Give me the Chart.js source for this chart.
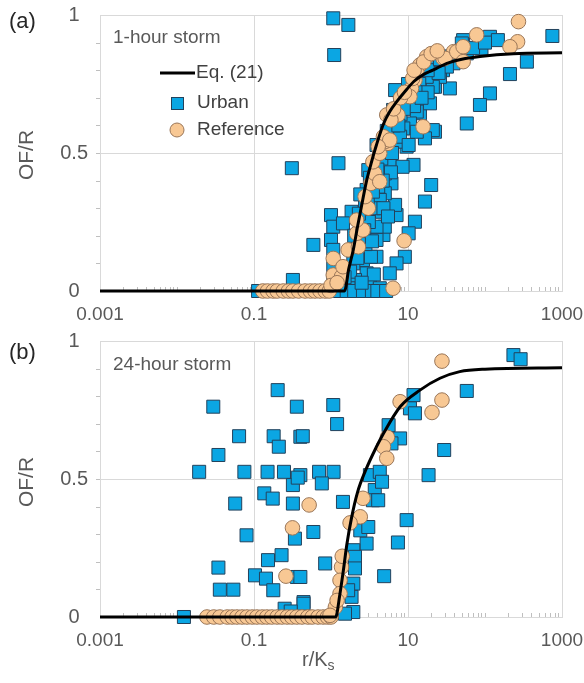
<!DOCTYPE html>
<html lang="en">
<head>
<meta charset="UTF-8">
<title>OF/R vs r/Ks</title>
<script src="https://cdn.jsdelivr.net/npm/chart.js"></script>
<style>
  body { margin: 0; background: #fff; }
  #wrap { position: relative; width: 584px; height: 683px; }
  canvas { position: absolute; left: 0; }
  #chartA { top: 0; }
  #chartB { top: 330px; }
</style>
</head>
<body>
<div id="wrap">
  <canvas id="chartA" width="584" height="330"></canvas>
  <canvas id="chartB" width="584" height="353"></canvas>
</div>
<script>
// ---- data ----
const xTicks = [0.001, 0.1, 10, 1000];
const yTicks = [0, 0.5, 1];

// (a) 1-hour storm
const eqA = [[0.001,0],[1.5,0],[1.7,0.08],[1.95,0.15],[2.2,0.23],[2.5,0.31],[2.9,0.40],[3.3,0.46],
  [3.9,0.53],[4.8,0.605],[5.8,0.65],[7.1,0.685],[9.6,0.73],[12,0.76],[16,0.785],[21,0.80],
  [32,0.825],[50,0.84],[86,0.85],[234,0.86],[1000,0.863]];

const urbanA = [[0.113,0],[0.31,0.445],[0.32,0.04],[1.07,0.988],[1.68,0.964],[1.1,0.855],[1.25,0.463],
  [20,0.384],[16.6,0.324],[12.3,0.251],[10.2,0.209],[9.1,0.124],[7.1,0.10],[5.8,0.064],
  [750,0.924],[350,0.831],[211,0.786],[116,0.716],[86,0.674],[58,0.607],
  [116,0.921],[147,0.909],[90,0.879],[58,0.861],[39,0.825],[28.5,0.80],[35,0.734],[22.4,0.74],
  [22.4,0.577],[16.6,0.559],[11.8,0.457],[9.1,0.59],[9.6,0.523],[14.3,0.644],[17.5,0.692],
  [0.59,0.167],[1.0,0.275],[1.07,0.233],[1.0,0.185],[1.07,0.149],[1.07,0.088],[1.07,0.04],
  [1.85,0.287],[1.43,0.245],[4.8,0.203],[7.1,0.275],[6.8,0.312],[5.0,0.233],[6.1,0.39],[5.0,0.354],
  [4.6,0.287],[3.9,0.124],[2.9,0.064],[3.2,0.016],[4.3,0.01],[2.3,0.01],[2.05,0.04],[2.6,0.112],
  [3.3,0.124],[1.95,0.10],[1.77,0.07],[1.7,0.01],[7.1,0.541],[5.8,0.475],[5.0,0.426],[4.1,0.378],
  [4.3,0.33],[3.05,0.438],[2.9,0.366],[2.77,0.305],[2.5,0.257],[2.4,0.197],[3.9,0.185],[3.9,0.233],
  [52,0.909],[26,0.776],[21,0.74],[32,0.813],[19.3,0.68],[13,0.65],[14.3,0.704],[10.6,0.607],
  [8.7,0.589],[9.6,0.704],[7.9,0.692],[6.4,0.656],[21,0.583],[16.6,0.553],[13,0.577],[17.5,0.776],
  [22.4,0.813],[7.9,0.559],[10.2,0.529],[3.9,0.529],[6.8,0.728],[50,0.897],
  [1.3,0],[1.6,0],[2.0,0],[2.6,0],[3.4,0],[4.0,0],[5.2,0],
  [4.5,0.48],[5.5,0.52],[6.5,0.60],[8,0.64],[11,0.70],[12,0.67],[14,0.75],[18,0.72],[25,0.79],
  [30,0.85],[45,0.86],[70,0.88],[100,0.90],[8.5,0.45],[6,0.43],[4.7,0.40],[3.6,0.30],[3.1,0.25],
  [2.8,0.17],[2.2,0.12],[1.5,0.05],
  [2.0,0.20],[2.3,0.28],[2.7,0.22],[3.4,0.18],[3.0,0.33],[3.5,0.36],[4.0,0.44],[4.4,0.52],
  [5.3,0.58],[6.2,0.50],[7.5,0.60],[8.8,0.66],[10,0.75],[12.5,0.72],[15,0.70],[18,0.80],
  [26,0.84],[3.6,0.06],[2.5,0.03],[4.8,0.30],[5.5,0.27],[3.2,0.41],[2.4,0.35]];

const refA = [[0.13,0],[0.15,0],[0.177,0],[0.2,0],[0.24,0],[0.28,0],[0.32,0],[0.38,0],[0.46,0],
  [0.54,0],[0.62,0],[0.72,0],[0.84,0],[0.95,0],
  [8.9,0.182],[6.4,0.01],[272,0.976],[265,0.903],[211,0.885],[78,0.928],[50,0.879],[39,0.867],
  [17.5,0.849],[28.5,0.843],[15.7,0.595],
  [1.07,0.118],[1.07,0.058],[1.37,0.052],[1.43,0.088],[1.67,0.149],[2.27,0.16],[2.15,0.209],
  [2.6,0.221],[2.15,0.257],[3.05,0.30],[2.77,0.342],[3.3,0.39],[3.7,0.426],[4.3,0.396],[3.5,0.468],
  [4.3,0.499],[5.5,0.535],[5.0,0.541],
  [14.3,0.819],[13,0.795],[12.3,0.764],[11.1,0.734],[10.6,0.704],[5.3,0.638],[7.4,0.638],[4.8,0.559],
  [5.8,0.547],[4.1,0.523],[30.3,0.843],[43,0.867],[52,0.885],[52,0.831],
  [1.0,0.02],[1.2,0.03],[6.0,0.62],
  [6.5,0.66],[8,0.70],[9,0.72],[11.5,0.77],[12,0.80],[16,0.83],[20,0.86],[24,0.87]];

// (b) 24-hour storm
const eqB = [[0.001,0],[1.15,0],[1.3,0.08],[1.45,0.17],[1.6,0.26],[1.85,0.36],[2.2,0.45],[2.8,0.53],
  [3.9,0.617],[4.8,0.665],[7.9,0.762],[14.3,0.822],[26,0.865],[47,0.889],[100,0.898],[1000,0.903]];

const urbanB = [[0.0296,0.762],[0.0345,0.587],[0.0194,0.526],[0.064,0.655],[0.075,0.526],[0.057,0.411],
  [0.080,0.296],[0.0345,0.179],[0.036,0.099],[0.054,0.099],[0.0123,0],[0.103,0.151],[0.143,0.139],
  [0.178,0.097],[0.152,0.206],[0.228,0.224],[0.136,0.448],[0.175,0.429],[0.15,0.526],[0.245,0.526],
  [0.18,0.655],[0.21,0.617],[0.203,0.822],[0.36,0.762],[0.32,0.478],[0.32,0.411],[0.34,0.284],
  [0.36,0.145],[0.25,0.03],[0.4,0.653],[0.43,0.655],[0.4,0.514],[0.44,0.054],[0.37,0.505],
  [1.07,0.768],[1.2,0.699],[0.7,0.526],[1.08,0.526],[11.8,0.804],[10.6,0.756],[12.3,0.738],[5.6,0.695],
  [7.9,0.647],[6.1,0.629],[29.5,0.605],[18.5,0.514],[3.2,0.514],[4.3,0.526],
  [234,0.949],[290,0.934],[58,0.819],[9.6,0.351],[7.4,0.27],[4.9,0.148],[3.7,0.46],[3.5,0.423],
  [1.43,0.417],[0.84,0.194],[0.59,0.308],[0.4,0.145],[0.44,0.048],[2.9,0.266],[2.4,0.314],[3.05,0.326],
  [1.95,0.242],[2.05,0.181],[1.95,0.121],[1.85,0.073],[1.95,0.018],[1.52,0.012],[1.67,0.097],
  [2.05,0.218],[2.05,0.176],[0.76,0.484],[4.6,0.49],[4.1,0.423],[0.3,0.02]];

const refB = [[0.0245,0],[0.03,0],[0.036,0],[0.045,0],[0.052,0],[0.06,0],[0.07,0],[0.081,0],[0.095,0],
  [0.109,0],[0.128,0],[0.147,0],[0.17,0],[0.2,0],[0.23,0],[0.27,0],[0.31,0],[0.36,0],[0.42,0],[0.5,0],
  [0.57,0],[0.68,0],[0.79,0],[0.9,0],[1.0,0],
  [0.316,0.323],[0.26,0.148],[0.52,0.406],[27.6,0.927],[7.9,0.78],[27.6,0.786],[20.5,0.741],
  [5.4,0.651],[4.8,0.617],[5.3,0.575],[2.6,0.43],[2.4,0.363],[1.77,0.341],[1.37,0.181],[1.31,0.133],
  [1.31,0.085],[1.14,0.036],[0.97,0.006],[1.2,0.06],[1.4,0.22]];

// ---- styles ----
const FONT = '"Liberation Sans", Arial, sans-serif';
const BLUE = '#0ba6e3', BLUE_EDGE = '#23425c';
const PEACH = '#f8c894', PEACH_EDGE = '#9a7658';
const GRID = '#d9d9d9';

Chart.defaults.font.family = FONT;

const pts = arr => arr.map(([x, y]) => ({ x, y }));

function decor(cfg) {
  return {
    id: 'decor',
    beforeDatasetsDraw(chart) {
      // minor tick marks
      const { ctx, chartArea: a, scales: { x, y } } = chart;
      ctx.save();
      ctx.strokeStyle = '#bfbfbf';
      ctx.lineWidth = 1;
      ctx.beginPath();
      for (let e = -3; e < 3; e++) {
        for (let k = 1; k < 10; k++) {
          const v = k * 10 ** e;
          if (xTicks.includes(v)) continue;
          const px = Math.round(x.getPixelForValue(v)) + 0.5;
          ctx.moveTo(px, a.bottom);
          ctx.lineTo(px, a.bottom - 4);
        }
      }
      for (let i = 1; i < 10; i++) {
        const py = Math.round(y.getPixelForValue(i / 10)) + 0.5;
        ctx.moveTo(a.left, py);
        ctx.lineTo(a.left - 4, py);
      }
      ctx.stroke();
      ctx.restore();
    },
    afterDraw(chart) {
      const ctx = chart.ctx;
      ctx.save();
      ctx.textBaseline = 'middle';
      ctx.textAlign = 'left';

      ctx.fillStyle = '#262626';
      ctx.font = '22px ' + FONT;
      ctx.fillText(cfg.tag, 9, cfg.tagY);

      ctx.fillStyle = '#595959';
      ctx.font = '19px ' + FONT;
      ctx.fillText(cfg.storm, 113, cfg.stormY);

      // y title
      ctx.save();
      ctx.translate(27, cfg.titleY);
      ctx.rotate(-Math.PI / 2);
      ctx.textAlign = 'center';
      ctx.font = '21px ' + FONT;
      ctx.fillText('OF/R', 0, 0);
      ctx.restore();

      if (cfg.legend) {
        ctx.font = '19px ' + FONT;
        ctx.fillStyle = '#404040';
        // line
        ctx.strokeStyle = '#000';
        ctx.lineWidth = 3;
        ctx.beginPath();
        ctx.moveTo(160, 73);
        ctx.lineTo(195, 73);
        ctx.stroke();
        ctx.fillText('Eq. (21)', 196, 73);
        // square
        ctx.lineWidth = 1;
        ctx.fillStyle = BLUE;
        ctx.strokeStyle = BLUE_EDGE;
        ctx.fillRect(171, 97, 12, 12);
        ctx.strokeRect(171.5, 97.5, 12, 12);
        ctx.fillStyle = '#404040';
        ctx.fillText('Urban', 197, 103);
        // circle
        ctx.beginPath();
        ctx.arc(177, 130, 7, 0, Math.PI * 2);
        ctx.fillStyle = PEACH;
        ctx.fill();
        ctx.strokeStyle = PEACH_EDGE;
        ctx.stroke();
        ctx.fillStyle = '#404040';
        ctx.fillText('Reference', 197, 130);
      }

      if (cfg.xTitle) {
        ctx.fillStyle = '#595959';
        ctx.font = '20px ' + FONT;
        ctx.fillText('r/K', 302, cfg.xTitleY);
        const w = ctx.measureText('r/K').width;
        ctx.font = '14px ' + FONT;
        ctx.fillText('s', 302 + w, cfg.xTitleY + 6);
      }
      ctx.restore();
    }
  };
}

function makeChart(id, eq, urban, ref, cfg) {
  return new Chart(document.getElementById(id), {
    type: 'scatter',
    data: {
      datasets: [
        {
          label: 'Eq. (21)', data: pts(eq), showLine: true, pointRadius: 0,
          borderColor: '#000', borderWidth: 3, cubicInterpolationMode: 'monotone', order: 0
        },
        {
          label: 'Reference', data: pts(ref), pointStyle: 'circle', pointRadius: 7.3,
          backgroundColor: PEACH, borderColor: PEACH_EDGE, borderWidth: 1, order: 1
        },
        {
          label: 'Urban', data: pts(urban), pointStyle: 'rect', pointRadius: 9.2,
          backgroundColor: BLUE, borderColor: BLUE_EDGE, borderWidth: 1, order: 2
        }
      ]
    },
    options: {
      responsive: false,
      animation: false,
      clip: false,
      events: [],
      layout: { padding: { left: 0, right: 22, top: cfg.padTop, bottom: 0 } },
      scales: {
        x: {
          type: 'logarithmic', min: 0.001, max: 1000,
          afterBuildTicks: s => { s.ticks = xTicks.map(v => ({ value: v })); },
          afterFit: s => { s.height = cfg.xHeight; s.paddingLeft = 0; s.paddingRight = 0; },
          grid: { color: GRID, drawTicks: false },
          border: { color: GRID },
          ticks: {
            autoSkip: false, maxRotation: 0, padding: 12, color: '#595959',
            font: { size: 19 }, callback: v => String(v)
          }
        },
        y: {
          min: 0, max: 1,
          afterBuildTicks: s => { s.ticks = yTicks.map(v => ({ value: v })); },
          afterFit: s => { s.width = 100; s.paddingTop = 0; s.paddingBottom = 0; },
          grid: { color: GRID, drawTicks: false },
          border: { color: GRID },
          ticks: {
            padding: 12, crossAlign: 'center', color: '#595959',
            font: { size: 20 }, callback: v => String(v)
          }
        }
      },
      plugins: { legend: { display: false }, tooltip: { enabled: false } }
    },
    plugins: [decor(cfg)]
  });
}

makeChart('chartA', eqA, urbanA, refA, {
  padTop: 15, xHeight: 39, tag: '(a)', tagY: 22, storm: '1-hour storm', stormY: 38,
  titleY: 155, legend: true, xTitle: false
});
makeChart('chartB', eqB, urbanB, refB, {
  padTop: 11, xHeight: 66, tag: '(b)', tagY: 23, storm: '24-hour storm', stormY: 35,
  titleY: 152, legend: false, xTitle: true, xTitleY: 330
});
</script>
</body>
</html>
